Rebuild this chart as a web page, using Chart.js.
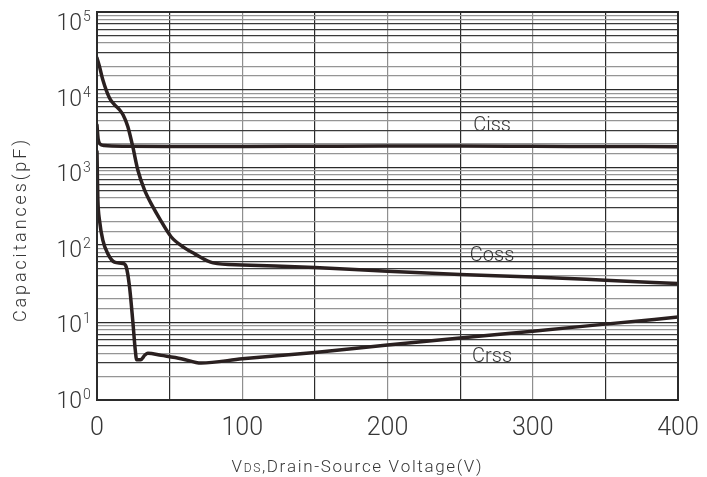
<!DOCTYPE html>
<html>
<head>
<meta charset="utf-8">
<script src="https://cdn.jsdelivr.net/npm/chart.js@4.4.1/dist/chart.umd.min.js"></script>
<style>
  html, body { margin: 0; padding: 0; background: #ffffff; }
  #wrap { width: 707px; height: 477px; }
</style>
</head>
<body>
<div id="wrap"><canvas id="c" width="707" height="477"></canvas></div>
<script>
// ---- data ----
const cissV = [0, 0.3, 0.8, 2, 5, 20, 50, 100, 150, 200, 250, 300, 350, 400];
const cissC = [3500, 2900, 2300, 2000, 1900, 1860, 1850, 1850, 1860, 1870, 1870, 1860, 1850, 1840];

const cossV = [0, 1.7, 4, 8.6, 12, 15.5, 18, 21.2, 24.6, 28.1, 32.7, 38.4, 43, 51, 60, 67, 80, 100, 150, 200, 250, 300, 350, 400];
const cossC = [25600, 19900, 13400, 7800, 6400, 5500, 4700, 3350, 1850, 920, 510, 310, 219, 127, 92, 77, 58.5, 55, 51, 45.5, 41.5, 38.5, 35, 31.7];

const crssV = [0, 0.3, 0.6, 1.7, 4, 7.4, 12, 17.8, 20.1, 22.4, 24.6, 26.3, 27.3, 30, 33, 35, 44.2, 58, 71.7, 100, 150, 200, 250, 300, 350, 400];
const crssC = [1590, 700, 380, 209, 115, 77, 60, 57.5, 52, 28.7, 10.6, 4.5, 3.3, 3.3, 3.8, 4.0, 3.76, 3.41, 2.99, 3.4, 4.1, 5.1, 6.3, 7.7, 9.5, 11.7];

const xTicks = [0, 100, 200, 300, 400];
const yExps = [0, 1, 2, 3, 4, 5];

const curveNames = ['Ciss', 'Coss', 'Crss'];
const curveLabelV = [272, 272, 272];
const curveLabelC = [3400, 72, 3.55];

const xTitleMain = 'V';
const xTitleSub = 'DS';
const xTitleRest = ',Drain-Source Voltage(V)';
const yTitle = 'Capacitances(pF)';

// ---- helpers ----
const pts = (xs, ys) => xs.map((x, i) => ({ x: x, y: ys[i] }));
const CURVE = '#2a2020';
const TEXT = '#363636';
const FONT = 'Roboto, "Liberation Sans", Arial, sans-serif';

function minorDigit(v) {
  const e = Math.floor(Math.log10(v) + 1e-9);
  return Math.round(v / Math.pow(10, e));
}

// draw text pieces [{t, font}] spaced out to fill a target width, centred at cx
function spacedText(ctx, pieces, cx, y, target) {
  const chars = [];
  pieces.forEach(p => { for (const ch of p.t) chars.push({ ch, font: p.font }); });
  let natural = 0;
  chars.forEach(c => { ctx.font = c.font; c.w = ctx.measureText(c.ch).width; natural += c.w; });
  const gap = chars.length > 1 ? (target - natural) / (chars.length - 1) : 0;
  let x = cx - target / 2;
  ctx.textAlign = 'left';
  chars.forEach(c => { ctx.font = c.font; ctx.fillText(c.ch, x, y); x += c.w + gap; });
}

const textPlugin = {
  id: 'textPlugin',
  afterDraw(chart) {
    const ctx = chart.ctx;
    const xs = chart.scales.x, ys = chart.scales.y;
    const a = chart.chartArea;
    ctx.save();
    // frame
    ctx.strokeStyle = '#2b2b2b';
    ctx.lineWidth = 2;
    ctx.strokeRect(a.left, a.top, a.right - a.left, a.bottom - a.top);

    ctx.fillStyle = TEXT;
    // y tick labels 10^n
    yExps.forEach(e => {
      const py = ys.getPixelForValue(Math.pow(10, e)) + 8 + 2 * e;
      ctx.font = '300 23px ' + FONT;
      ctx.textAlign = 'right';
      ctx.textBaseline = 'alphabetic';
      ctx.fillText('10', a.left - 15, py);
      ctx.font = '300 14px ' + FONT;
      ctx.textAlign = 'left';
      ctx.fillText(String(e), a.left - 14, py - 9);
    });
    // x tick labels
    ctx.font = '300 25px ' + FONT;
    ctx.textAlign = 'center';
    ctx.textBaseline = 'alphabetic';
    xTicks.forEach(v => {
      ctx.fillText(String(v), xs.getPixelForValue(v), 435);
    });
    // x title
    ctx.textBaseline = 'alphabetic';
    spacedText(ctx, [
      { t: xTitleMain, font: '300 17px ' + FONT },
      { t: xTitleSub, font: '300 12px ' + FONT },
      { t: xTitleRest, font: '300 17px ' + FONT }
    ], 356.5, 472, 250);
    // y title
    ctx.save();
    ctx.translate(26, 231);
    ctx.rotate(-Math.PI / 2);
    ctx.textBaseline = 'alphabetic';
    spacedText(ctx, [{ t: yTitle, font: '300 18px ' + FONT }], 0, 0, 182);
    ctx.restore();
    // curve labels
    ctx.font = '300 20px ' + FONT;
    ctx.textAlign = 'center';
    ctx.textBaseline = 'middle';
    curveNames.forEach((n, i) => {
      ctx.fillText(n, xs.getPixelForValue(curveLabelV[i]), ys.getPixelForValue(curveLabelC[i]));
    });
    ctx.restore();
  }
};

const ds = (d) => ({
  data: d,
  borderColor: CURVE,
  borderWidth: 3.5,
  pointRadius: 0,
  fill: false,
  cubicInterpolationMode: 'monotone',
  borderCapStyle: 'round',
  borderJoinStyle: 'round'
});

new Chart(document.getElementById('c'), {
  type: 'line',
  data: {
    datasets: [ds(pts(cissV, cissC)), ds(pts(cossV, cossC)), ds(pts(crssV, crssC))]
  },
  options: {
    responsive: false,
    devicePixelRatio: 1,
    animation: false,
    layout: { padding: { left: 97, right: 29, top: 12, bottom: 77 } },
    plugins: { legend: { display: false }, tooltip: { enabled: false } },
    scales: {
      x: {
        type: 'linear',
        min: 0, max: 400,
        ticks: { display: false, stepSize: 50 },
        border: { display: false },
        grid: {
          drawTicks: false,
          tickLength: 0,
          lineWidth: 1.2,
          color: (c) => {
            const v = c.tick ? c.tick.value : 0;
            return (v % 100 === 0 && v !== 0 && v !== 400) ? '#8f8f8f' : '#2b2b2b';
          }
        }
      },
      y: {
        type: 'logarithmic',
        min: 1, max: 100000,
        ticks: { display: false },
        border: { display: false },
        grid: {
          drawTicks: false,
          tickLength: 0,
          lineWidth: 1.2,
          color: (c) => {
            const v = c.tick ? c.tick.value : 1;
            const d = minorDigit(v);
            if (d === 1 || d === 10) return '#2b2b2b';
            return (d === 2 || d === 4 || d === 8 || d === 9) ? '#959595' : '#3a3a3a';
          }
        }
      }
    }
  },
  plugins: [textPlugin]
});
</script>
</body>
</html>
